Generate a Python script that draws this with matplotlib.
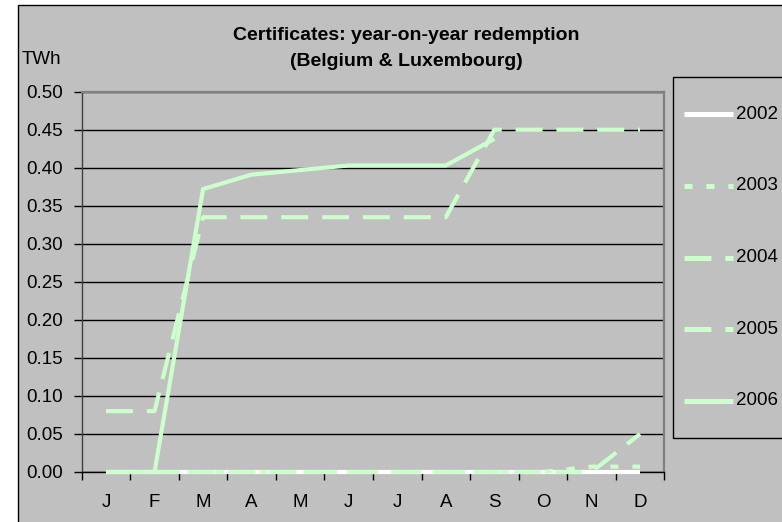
import numpy as np
import matplotlib
matplotlib.use("Agg")
import matplotlib.pyplot as plt
from matplotlib.lines import Line2D
from matplotlib.patches import Rectangle

plt.rcParams['font.family'] = ['Liberation Sans', 'DejaVu Sans']
plt.rcParams['lines.scale_dashes'] = False

months = ["J", "F", "M", "A", "M", "J", "J", "A", "S", "O", "N", "D"]
years = ["2002", "2003", "2004", "2005", "2006"]
nan = np.nan
v2002 = [0, 0, 0, 0, 0, 0, 0, 0, 0, 0, 0, 0]
v2003 = [0, 0, 0, 0, 0, 0, 0, 0, 0, 0, 0.007, 0.007]
v2004 = [0, 0, 0, 0, 0, 0, 0, 0, 0, 0, 0, 0.05]
v2005 = [0.08, 0.08, 0.335, 0.335, 0.335, 0.335, 0.335, 0.335, 0.45, 0.45, 0.45, 0.45]
v2006 = [0, 0, 0.372, 0.391, 0.397, 0.403, 0.403, 0.403, 0.438, nan, nan, nan]
series = [v2002, v2003, v2004, v2005, v2006]
yticks = [0.00, 0.05, 0.10, 0.15, 0.20, 0.25, 0.30, 0.35, 0.40, 0.45, 0.50]

GREEN = "#CCFFCC"
colors = ["#FFFFFF", GREEN, GREEN, GREEN, GREEN]
dashes = [None, (5.8, 10.0), (19.4, 10.0), (19.4, 10.0), None]

W, H = 782, 522
fig = plt.figure(figsize=(W / 100, H / 100), dpi=100)
fig.patch.set_facecolor("white")

def fx(px):
    return px / W

def fy(py):
    return 1 - py / H

# chart area
fig.add_artist(Rectangle((fx(17.5), fy(530)), fx(800), fy(4.5) - fy(530),
                         transform=fig.transFigure, facecolor="#C0C0C0",
                         edgecolor="black", linewidth=1.0, zorder=0))

ax = fig.add_axes([fx(81.7), fy(472), fx(664.3) - fx(81.7), fy(91.7) - fy(472)])
ax.set_facecolor("#C0C0C0")
x = np.arange(len(months))
for name, vals, c, d in zip(years, series, colors, dashes):
    ln, = ax.plot(x, vals, color=c, lw=3.0, zorder=3, clip_on=False,
                  solid_capstyle="butt", dash_capstyle="butt", label=name)
    if d is not None:
        ln.set_dashes(d)

ax.set_xlim(-0.5, 11.5)
ax.set_ylim(0, 0.5)
ax.set_yticks(yticks)
ax.set_yticklabels([f"{v:.2f}" for v in yticks])
ax.set_xticks(x)
ax.set_xticklabels(months)
ax.set_xticks(np.arange(-0.5, 12, 1), minor=True)
ax.tick_params(axis="x", which="major", length=0, pad=16, labelsize=13.5)
ax.tick_params(axis="x", which="minor", length=6, width=1, color="black", direction="out")
ax.tick_params(axis="y", length=6, width=1, color="black", direction="out", pad=7.5, labelsize=13.5)
ax.grid(axis="y", color="black", lw=1.0, zorder=1)
ax.set_axisbelow(True)
for s in ["top", "right"]:
    ax.spines[s].set_color("#808080")
    ax.spines[s].set_linewidth(1.6)
ax.spines["left"].set_color("#404040")
ax.spines["bottom"].set_color("black")
for s in ["left", "bottom"]:
    ax.spines[s].set_linewidth(1.0)

# title and unit
fig.text(fx(406), fy(36), "Certificates: year-on-year redemption", ha="center", va="center",
         fontsize=14, fontweight="bold")
fig.text(fx(406), fy(62), "(Belgium & Luxembourg)", ha="center", va="center",
         fontsize=14, fontweight="bold")
fig.text(fx(22), fy(60), "TWh", ha="left", va="center", fontsize=13.5)

# legend
fig.add_artist(Rectangle((fx(672.7), fy(438.3)), fx(200), fy(77.3) - fy(438.3),
                         transform=fig.transFigure, facecolor="#C0C0C0",
                         edgecolor="black", linewidth=1.0, zorder=1))
for i, (name, c, d) in enumerate(zip(years, colors, dashes)):
    yy = 114.3 + 71.6 * i
    ln = Line2D([fx(684), fx(733)], [fy(yy), fy(yy)], transform=fig.transFigure,
                color=c, lw=3.6, solid_capstyle="butt", dash_capstyle="butt", zorder=2)
    if d is not None:
        ln.set_dashes(d)
    fig.add_artist(ln)
    fig.text(fx(736), fy(yy), name, ha="left", va="center", fontsize=13.5, zorder=3)

fig.savefig("out.png", dpi=100)
